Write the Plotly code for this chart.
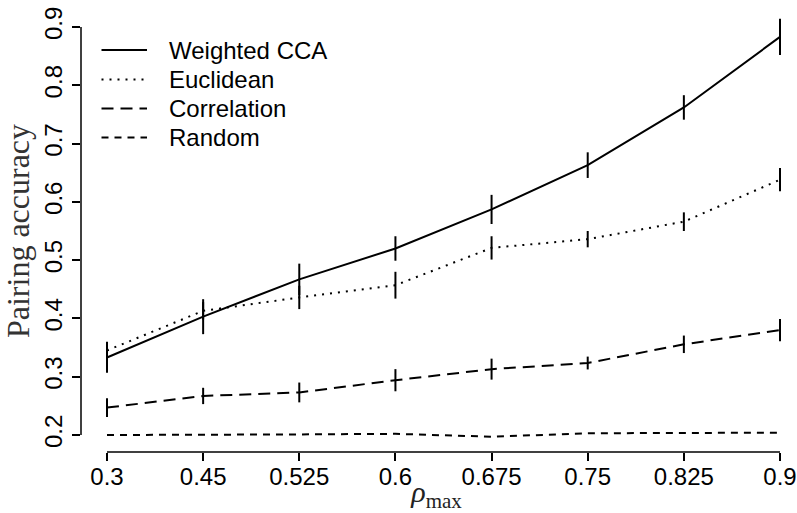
import plotly.graph_objects as go

rho_labels = ["0.3", "0.45", "0.525", "0.6", "0.675", "0.75", "0.825", "0.9"]

cca = [0.333, 0.403, 0.467, 0.520, 0.587, 0.663, 0.762, 0.883]
cca_err = [0.026, 0.030, 0.027, 0.021, 0.025, 0.022, 0.021, 0.031]

euclid = [0.345, 0.413, 0.436, 0.457, 0.521, 0.536, 0.566, 0.638]
euclid_err = [0.015, 0.015, 0.020, 0.023, 0.020, 0.014, 0.016, 0.020]

corr = [0.247, 0.267, 0.273, 0.294, 0.313, 0.3235, 0.3556, 0.380]
corr_err = [0.016, 0.014, 0.017, 0.019, 0.018, 0.011, 0.015, 0.019]

rand = [0.200, 0.200, 0.201, 0.202, 0.197, 0.203, 0.203, 0.204]

y_ticks = [0.2, 0.3, 0.4, 0.5, 0.6, 0.7, 0.8, 0.9]
y_ticktext = ["0.2", "0.3", "0.4", "0.5", "0.6", "0.7", "0.8", "0.9"]

series_names = ["Weighted CCA", "Euclidean", "Correlation", "Random"]
series_vals = [cca, euclid, corr, rand]
series_errs = [cca_err, euclid_err, corr_err, None]
series_dash = ["solid", "2px,6px", "12px,7px", "7px,6px"]

# plot-area geometry (pixels)
W, H = 797, 513
ML, MR, MT, MB = 81, 5, 10, 61
PW, PH = W - ML - MR, H - MT - MB


def px_to_paper_x(px):
    return (px - ML) / PW


def px_to_paper_y(py):
    return (H - MB - py) / PH


fig = go.Figure()
for name, vals, errs, dash in zip(series_names, series_vals, series_errs, series_dash):
    kw = {}
    if errs is not None:
        kw["error_y"] = dict(type="data", array=errs, visible=True,
                             color="black", thickness=2, width=0)
    fig.add_trace(go.Scatter(
        x=rho_labels, y=vals, name=name, mode="lines",
        line=dict(color="black", width=2, dash=dash),
        showlegend=False, **kw))

sans = "Liberation Sans, Arial, sans-serif"
serif = "Liberation Serif, Times New Roman, serif"

fig.update_layout(
    width=W, height=H,
    margin=dict(l=ML, r=MR, t=MT, b=MB),
    paper_bgcolor="white", plot_bgcolor="white",
    font=dict(family=sans, size=24, color="black"),
    showlegend=False,
    xaxis=dict(type="category", range=[-0.2704, 7.1248], automargin=False,
               showgrid=False, zeroline=False, showline=False,
               ticks="outside", ticklen=8, tickwidth=1.5, tickcolor="black",
               ticklabelstandoff=-5,
               tickfont=dict(family=sans, size=24, color="black"),
               title=dict(text="<i>ρ</i><sub>max</sub>",
                          font=dict(family=serif, size=30, color="#222"),
                          standoff=6)),
    yaxis=dict(range=[0.17083, 0.92917], automargin=False,
               tickvals=y_ticks, ticktext=y_ticktext, tickangle=-90,
               showgrid=False, zeroline=False, showline=False,
               ticks="outside", ticklen=8, tickwidth=1.5, tickcolor="black",
               tickfont=dict(family=sans, size=24, color="black"),
               title=dict(text="Pairing accuracy",
                          font=dict(family=serif, size=32, color="#333"),
                          standoff=4)),
)

# R-style axis lines spanning only first to last tick
fig.add_shape(type="line", xref="x", yref="paper",
              x0=0, x1=len(rho_labels) - 1, y0=0, y1=0,
              line=dict(color="black", width=1.5))
fig.add_shape(type="line", xref="paper", yref="y",
              x0=0, x1=0, y0=y_ticks[0], y1=y_ticks[-1],
              line=dict(color="black", width=1.5))

# Legend (R-style, drawn inside plot)
leg_rows_py = [50, 79.5, 108.5, 137.5]
leg_line_x = (101.5, 147)
leg_text_x = 167
for name, dash, py in zip(series_names, series_dash, leg_rows_py):
    fig.add_shape(type="line", xref="paper", yref="paper",
                  x0=px_to_paper_x(leg_line_x[0]), x1=px_to_paper_x(leg_line_x[1]),
                  y0=px_to_paper_y(py), y1=px_to_paper_y(py),
                  line=dict(color="black", width=2, dash=dash))
    fig.add_annotation(xref="paper", yref="paper",
                       x=px_to_paper_x(leg_text_x), y=px_to_paper_y(py),
                       xanchor="left", yanchor="middle", showarrow=False,
                       text=name, font=dict(family=sans, size=24, color="black"))

fig.write_html("out.html",
               config={"displayModeBar": False},
               post_script="document.body.style.margin='0';"
                           "document.body.style.overflow='hidden';")
